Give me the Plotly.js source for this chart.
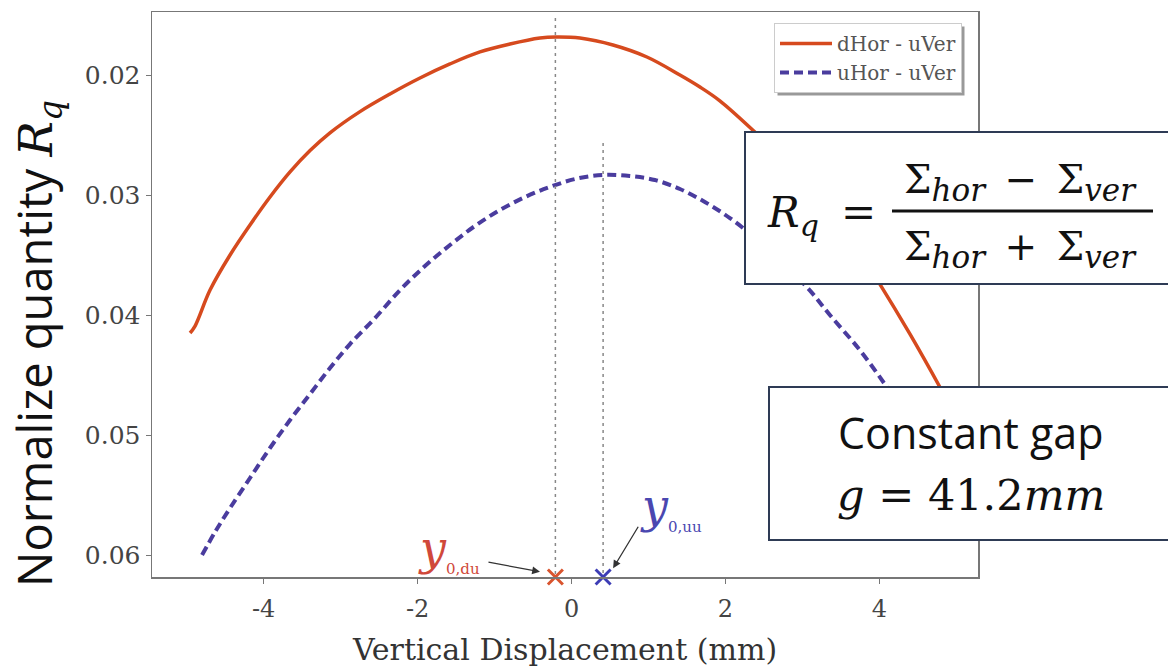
<!DOCTYPE html>
<html><head><meta charset="utf-8">
<script src="https://cdn.plot.ly/plotly-3.0.1.min.js"></script>
<style>html,body{margin:0;padding:0;background:#fff}</style>
</head><body><div id="chart" style="width:1168px;height:668px"></div>
<script>
// ---- data ----
const seriesNames = ['dHor - uVer', 'uHor - uVer'];
const dhorX = [-4.956,-4.891,-4.696,-4.436,-4.177,-3.917,-3.657,-3.397,-3.138,-2.748,-2.358,-1.969,-1.579,-1.190,-0.800,-0.410,-0.203,0.109,0.538,0.979,1.408,1.668,1.927,2.382,2.966,3.486,4.005,4.395,4.784,4.979];
const dhorY = [0.04150,0.04092,0.03792,0.03500,0.03250,0.03017,0.02808,0.02630,0.02482,0.02305,0.02158,0.02025,0.01908,0.01808,0.01742,0.01692,0.01683,0.01692,0.01750,0.01850,0.02000,0.02100,0.02215,0.02475,0.02833,0.03225,0.03742,0.04158,0.04600,0.04833];
const uhorX = [-4.800,-4.631,-4.436,-4.177,-3.917,-3.657,-3.397,-3.138,-2.878,-2.553,-2.228,-1.904,-1.579,-1.255,-0.930,-0.605,-0.281,0.044,0.408,0.758,1.083,1.408,1.732,2.057,2.382,2.706,3.057,3.356,3.745,4.096,4.395,4.719];
const uhorY = [0.06000,0.05808,0.05608,0.05358,0.05108,0.04875,0.04658,0.04442,0.04242,0.04025,0.03792,0.03592,0.03417,0.03258,0.03125,0.03017,0.02933,0.02867,0.02833,0.02842,0.02875,0.02950,0.03058,0.03192,0.03358,0.03558,0.03767,0.04000,0.04292,0.04600,0.04875,0.05167];
const peakX = [-0.21, 0.41];           // y0,du and y0,uu
const peakLineTop = [0.01525, 0.02567];
const yTicks = [0.02, 0.03, 0.04, 0.05, 0.06];
const yTickText = ['0.02', '0.03', '0.04', '0.05', '0.06'];
const xTicks = [-4, -2, 0, 2, 4];
const xTickText = ['-4', '-2', '0', '2', '4'];
const xRange = [-5.45, 5.28];
const yRange = [0.06183, 0.01475];

// ---- styling ----
const RED = '#d64a1e', BLUE = '#4a3c9e';
const SERIF = 'DejaVu Serif';
const M = {l:152, r:190, t:12, b:91};
const W = 1168, H = 668, PW = W - M.l - M.r, PH = H - M.t - M.b;
const PX = v => (v - M.l) / PW;
const PY = v => 1 - (v - M.t) / PH;

const traces = [
  {x: dhorX, y: dhorY, name: seriesNames[0], mode: 'lines', line: {color: RED, width: 3.5, shape: 'spline'}},
  {x: uhorX, y: uhorY, name: seriesNames[1], mode: 'lines', line: {color: BLUE, width: 4, dash: '9px,5px', shape: 'spline'}},
  {x: [peakX[0], peakX[0]], y: [peakLineTop[0], yRange[0]], mode: 'lines', showlegend: false, hoverinfo: 'skip',
   line: {color: '#888', width: 1.5, dash: '3px,4px'}},
  {x: [peakX[1], peakX[1]], y: [peakLineTop[1], yRange[0]], mode: 'lines', showlegend: false, hoverinfo: 'skip',
   line: {color: '#888', width: 1.5, dash: '3px,4px'}},
  {x: [peakX[0]], y: [yRange[0]], mode: 'markers', showlegend: false, cliponaxis: false,
   marker: {symbol: 'x-thin', size: 15, line: {width: 3, color: '#d9542e'}}},
  {x: [peakX[1]], y: [yRange[0]], mode: 'markers', showlegend: false, cliponaxis: false,
   marker: {symbol: 'x-thin', size: 15, line: {width: 3, color: '#3d3db5'}}}
];

const subStyle = s => '<span style="font-size:' + s + 'px">';
const A = (x, y, text, font, extra) => Object.assign({xref:'paper', yref:'paper', x: PX(x), y: PY(y),
  xanchor:'center', yanchor:'middle', showarrow:false, text: text, font: font}, extra || {});
const annotations = [
  // y axis title
  A(36, 344, 'Normalize quantity <span style="font-family:\'DejaVu Serif\'"><i>R</i><sub><i>q</i></sub></span>',
    {family:'Open Sans', size:47, color:'#111'}, {textangle:-90}),
  // formula box
  A(793, 216, '<i>R</i><sub><i>' + subStyle(30) + 'q</span></i></sub>', {family:SERIF, size:42, color:'#111'}),
  A(858, 212, '=', {family:SERIF, size:42, color:'#111'}),
  A(1020, 182, 'Σ<sub><i>' + subStyle(31) + 'hor</span></i></sub>\u2002−\u2002Σ<sub><i>' + subStyle(31) + 'ver</span></i></sub>',
    {family:SERIF, size:39, color:'#111'}),
  A(1020, 249, 'Σ<sub><i>' + subStyle(31) + 'hor</span></i></sub>\u2002+\u2002Σ<sub><i>' + subStyle(31) + 'ver</span></i></sub>',
    {family:SERIF, size:39, color:'#111'}),
  // constant gap box
  A(970, 432, 'Constant gap', {family:'Open Sans', size:43, color:'#111'}),
  A(971, 495, '<i>g</i> = 41.2<i>mm</i>', {family:SERIF, size:43, color:'#111'}),
  // peak labels
  A(449, 549, '<i>y</i><sub>' + subStyle(15) + '0,du</span></sub>', {family:SERIF, size:46, color:'#d0483a'}),
  A(671, 507, '<i>y</i><sub>' + subStyle(15) + '0,uu</span></sub>', {family:SERIF, size:46, color:'#4a47b0'}),
  // arrows
  {xref:'x', yref:'y', x: peakX[0] - 0.2, y: 0.0614, text:'', showarrow:true, ax:-53, ay:-10,
   arrowhead:2, arrowsize:1.2, arrowwidth:1.3, arrowcolor:'#333'},
  {xref:'x', yref:'y', x: peakX[1] + 0.13, y: 0.0611, text:'', showarrow:true, ax:26, ay:-43,
   arrowhead:2, arrowsize:1.2, arrowwidth:1.3, arrowcolor:'#333'}
];

const shapes = [
  {type:'rect', xref:'paper', yref:'paper', x0: PX(745), x1: PX(1180), y0: PY(284), y1: PY(132),
   fillcolor:'#fff', line:{color:'#2e3b55', width:2}, layer:'above'},
  {type:'line', xref:'paper', yref:'paper', x0: PX(892), x1: PX(1153), y0: PY(211), y1: PY(211),
   line:{color:'#111', width:3}, layer:'above'},
  {type:'rect', xref:'paper', yref:'paper', x0: PX(769), x1: PX(1180), y0: PY(540), y1: PY(387),
   fillcolor:'#fff', line:{color:'#2e3b55', width:2}, layer:'above'}
];

const axisCommon = {showline:true, mirror:true, linecolor:'#777', linewidth:1.5, ticks:'outside',
  ticklen:5, tickcolor:'#777', showgrid:false, zeroline:false};

const layout = {
  width: W, height: H, margin: M, paper_bgcolor:'#fff', plot_bgcolor:'#fff',
  showlegend: true,
  legend: {x: PX(774), y: PY(23), xanchor:'left', yanchor:'top', bgcolor:'#fff', bordercolor:'#ccc', borderwidth:1,
    font:{family:SERIF, size:20, color:'#555'}, tracegroupgap: 0, itemwidth: 52},
  xaxis: Object.assign({}, axisCommon, {range: xRange, tickvals: xTicks, ticktext: xTickText,
    tickfont:{family:SERIF, size:24, color:'#444'}, ticklabelstandoff: 5,
    title:{text:'Vertical Displacement (mm)', font:{family:SERIF, size:30, color:'#333'}, standoff: 16}}),
  yaxis: Object.assign({}, axisCommon, {range: yRange, tickvals: yTicks, ticktext: yTickText,
    tickfont:{family:SERIF, size:25, color:'#444'}}),
  annotations: annotations, shapes: shapes
};

Plotly.newPlot('chart', traces, layout, {displayModeBar:false, staticPlot:true}).then(gd => {
  const bg = gd.querySelector('.legend .bg');
  const c = gd.getBoundingClientRect();
  if (bg) {
    const r = bg.getBoundingClientRect();
    const sh = {type:'rect', xref:'paper', yref:'paper', layer:'above',
      x0: PX(r.left - c.left + 3), x1: PX(r.right - c.left + 3), y0: PY(r.bottom - c.top + 3), y1: PY(r.top - c.top + 3),
      fillcolor:'#999', line:{width:0}};
    Plotly.relayout(gd, {shapes: [sh].concat(shapes)});
  }
});
</script></body></html>
